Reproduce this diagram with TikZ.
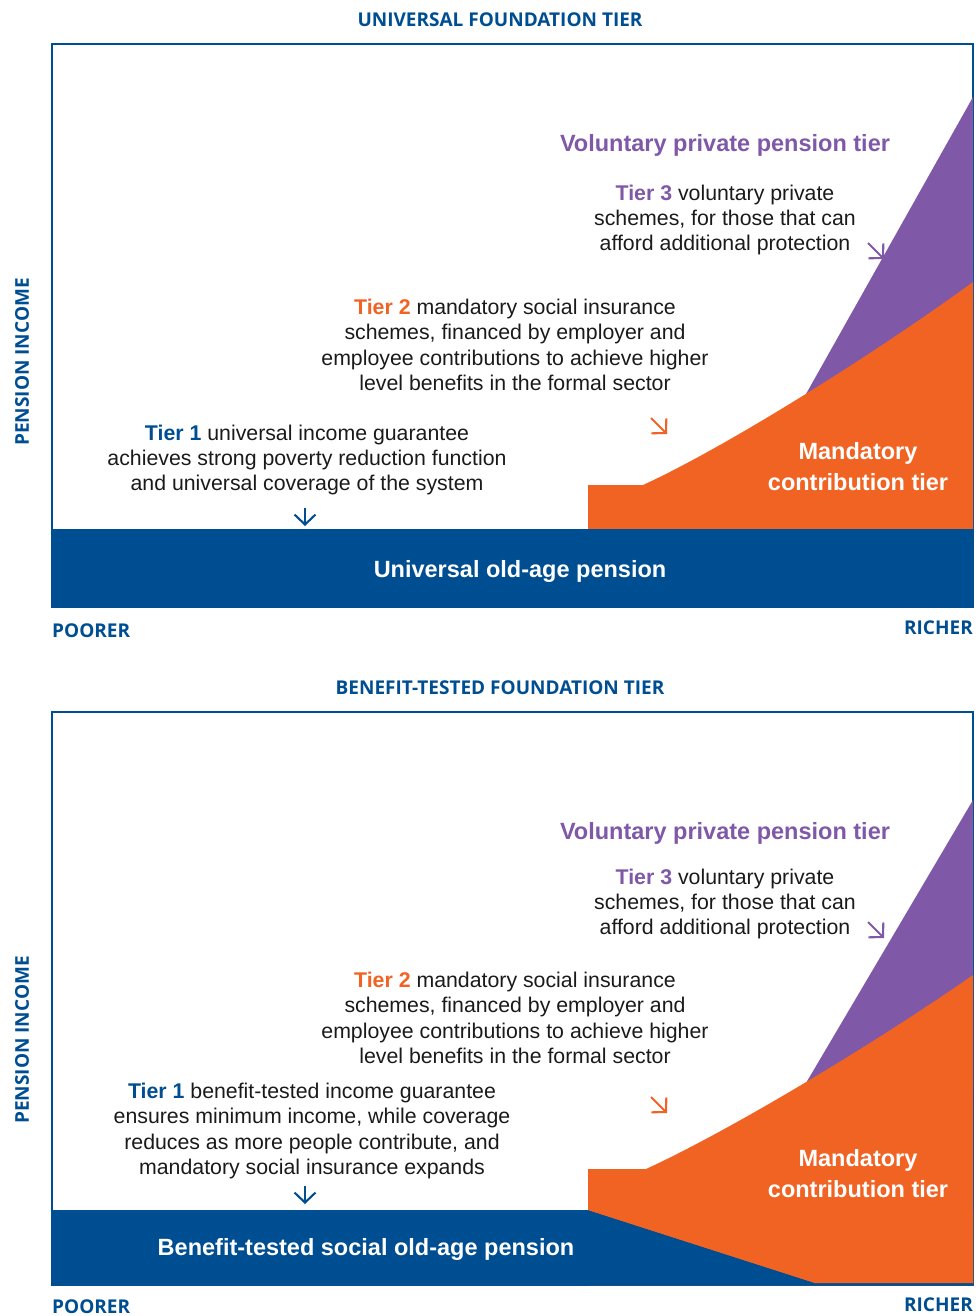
\documentclass[tikz,border=0pt]{standalone}
\usepackage{fontspec}
\setmainfont{Liberation Sans}
\newfontfamily\axisfont{Open Sans}
\usetikzlibrary{arrows.meta}

\definecolor{tierblue}{HTML}{004E92}
\definecolor{tierorange}{HTML}{F16323}
\definecolor{tierpurple}{HTML}{7F59A7}
\definecolor{bodytext}{HTML}{1A1A1A}

\tikzset{
  body/.style={align=center, text=bodytext, inner sep=0pt, font=\fontsize{21.3}{25.4}\selectfont},
  tiername/.style={text=tierpurple, inner sep=0pt, font=\bfseries\fontsize{23.5}{26}\selectfont},
  bandlabel/.style={align=center, text=white, inner sep=0pt, font=\bfseries\fontsize{23.5}{31}\selectfont},
  heading/.style={text=tierblue, inner sep=0pt, font=\axisfont\bfseries\fontsize{19}{21}\selectfont},
  axislabel/.style={text=tierblue, inner sep=0pt, font=\axisfont\bfseries\fontsize{19}{21}\selectfont},
  pointer/.style={-{Straight Barb[length=10pt,width=21pt]}, line width=2.1pt},
  chartframe/.style={draw=tierblue, line width=2.4pt}
}
\newcommand{\tierlabel}[2]{\textbf{\color{#1}Tier #2}}

\begin{document}
\begin{tikzpicture}[x=1pt, y=-1pt]
    \useasboundingbox (0,0) rectangle (979,1316);

    % ---- universal foundation tier ----
    \node[heading] (uhead) at (500,20) {UNIVERSAL FOUNDATION TIER};
    \draw[chartframe] (52,44) rectangle (973,607);
    \fill[tierpurple] (806,394) -- (973,97) -- (973,400) -- cycle;
    \fill[tierorange] (588,529) -- (588,485) -- (643,485)
        .. controls (730,445) and (880,350) .. (973,282) -- (973,529) -- cycle;
    \fill[tierblue] (52,529) rectangle (973,607);

    \node[tiername] (uvol) at (725,145) {Voluntary private pension tier};
    \node[body] (utier3) at (725,220) {\tierlabel{tierpurple}{3} voluntary private\\schemes, for those that can\\afford additional protection};
    \node[body] (utier2) at (515,345) {\tierlabel{tierorange}{2} mandatory social insurance\\schemes, financed by employer and\\employee contributions to achieve higher\\level benefits in the formal sector};
    \node[body] (utier1) at (307,460) {\tierlabel{tierblue}{1} universal income guarantee\\achieves strong poverty reduction function\\and universal coverage of the system};
    \node[bandlabel] (umand) at (858,467) {Mandatory\\contribution tier};
    \node[bandlabel] (uband) at (520,571) {Universal old-age pension};

    \coordinate (up3a) at (868,243);
    \coordinate (up3b) at (884,259);
    \coordinate (up2a) at (651,418);
    \coordinate (up2b) at (667,434);
    \coordinate (up1a) at (305,508);
    \coordinate (up1b) at (305,526);
    \draw[pointer, tierpurple] (up3a) -- (up3b);
    \draw[pointer, tierorange] (up2a) -- (up2b);
    \draw[pointer, tierblue] (up1a) -- (up1b);

    \node[axislabel, rotate=90] (uaxis) at (22,362) {PENSION INCOME};
    \node[axislabel, anchor=west] (upoor) at (52,631) {POORER};
    \node[axislabel, anchor=east] (urich) at (973,628) {RICHER};

    % ---- benefit-tested foundation tier ----
    \node[heading] (bhead) at (500,688) {BENEFIT-TESTED FOUNDATION TIER};
    \draw[chartframe] (52,712) rectangle (973,1285);
    \fill[tierpurple] (806,1083) -- (973,800) -- (973,1090) -- cycle;
    \fill[tierorange] (588,1285) -- (588,1169) -- (646,1169)
        .. controls (733,1129) and (880,1040) .. (973,975) -- (973,1285) -- cycle;
    \fill[tierblue] (52,1210) -- (588,1210) -- (815,1283) -- (973,1283) -- (973,1285) -- (52,1285) -- cycle;
    \fill[tierorange] (588,1210) -- (815,1283) -- (973,1283) -- (973,1210) -- cycle;

    \node[tiername] (bvol) at (725,833) {Voluntary private pension tier};
    \node[body] (btier3) at (725,904) {\tierlabel{tierpurple}{3} voluntary private\\schemes, for those that can\\afford additional protection};
    \node[body] (btier2) at (515,1018) {\tierlabel{tierorange}{2} mandatory social insurance\\schemes, financed by employer and\\employee contributions to achieve higher\\level benefits in the formal sector};
    \node[body] (btier1) at (312,1131) {\tierlabel{tierblue}{1} benefit-tested income guarantee\\ensures minimum income, while coverage\\reduces as more people contribute, and\\mandatory social insurance expands};
    \node[bandlabel] (bmand) at (858,1174) {Mandatory\\contribution tier};
    \node[bandlabel] (bband) at (366,1249) {Benefit-tested social old-age pension};

    \coordinate (bp3a) at (868,922);
    \coordinate (bp3b) at (884,938);
    \coordinate (bp2a) at (651,1097);
    \coordinate (bp2b) at (667,1113);
    \coordinate (bp1a) at (305,1186);
    \coordinate (bp1b) at (305,1204);
    \draw[pointer, tierpurple] (bp3a) -- (bp3b);
    \draw[pointer, tierorange] (bp2a) -- (bp2b);
    \draw[pointer, tierblue] (bp1a) -- (bp1b);

    \node[axislabel, rotate=90] (baxis) at (22,1040) {PENSION INCOME};
    \node[axislabel, anchor=west] (bpoor) at (52,1307) {POORER};
    \node[axislabel, anchor=east] (brich) at (973,1305) {RICHER};
\end{tikzpicture}
\end{document}
